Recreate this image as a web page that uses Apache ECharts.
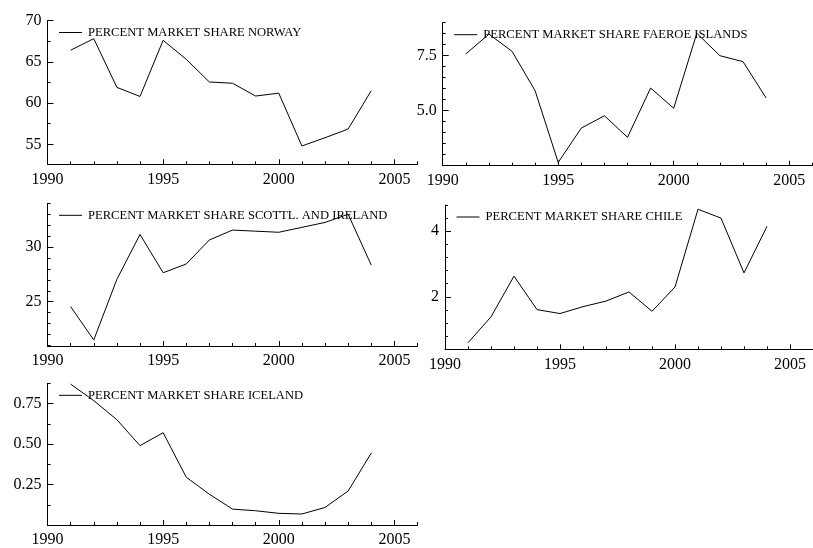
<!DOCTYPE html>
<html>
<head>
<meta charset="utf-8">
<script src="https://cdn.jsdelivr.net/npm/echarts@6/dist/echarts.min.js"></script>
<style>
  html, body { margin: 0; padding: 0; background: #fff; }
  #chart { width: 813px; height: 548px; }
</style>
</head>
<body>
<div id="chart"></div>
<script>
// Annual market shares (percent), 1991-2004
const years = [1991, 1992, 1993, 1994, 1995, 1996, 1997, 1998, 1999, 2000, 2001, 2002, 2003, 2004];

const norway   = [66.4, 67.8, 61.9, 60.8, 67.6, 65.3, 62.55, 62.4, 60.85, 61.2, 54.8, 55.8, 56.85, 61.5];
const faeroe   = [7.58, 8.48, 7.7, 5.91, 2.65, 4.21, 4.77, 3.79, 6.03, 5.11, 8.52, 7.5, 7.23, 5.58];
const scotland = [24.55, 21.5, 27.05, 31.15, 27.65, 28.45, 30.65, 31.55, 31.45, 31.35, 31.8, 32.25, 33.0, 28.35];
const chile    = [0.6, 1.39, 2.63, 1.61, 1.49, 1.7, 1.87, 2.15, 1.56, 2.3, 4.67, 4.4, 2.73, 4.15];
const iceland  = [0.87, 0.768, 0.65, 0.49, 0.57, 0.295, 0.19, 0.098, 0.088, 0.072, 0.068, 0.108, 0.21, 0.444];

// Axis tick values
const yearMajor = [1990, 1995, 2000, 2005];
const yearMinor = [1991, 1992, 1993, 1994, 1996, 1997, 1998, 1999, 2001, 2002, 2003, 2004, 2006];

const panels = [
  { name: 'PERCENT MARKET SHARE NORWAY', data: norway,
    box: [47.5, 20.5, 370, 143.8], ymin: 52.58, ymax: 70,
    major: [55, 60, 65, 70], minor: [57.5, 62.5, 67.5], dec: 0 },
  { name: 'PERCENT MARKET SHARE FAEROE ISLANDS', data: faeroe,
    box: [442.7, 22.7, 369.6, 143], ymin: 2.5, ymax: 9,
    major: [5, 7.5], minor: [3, 3.5, 4, 4.5, 5.5, 6, 6.5, 7, 8, 8.5, 9], dec: 1 },
  { name: 'PERCENT MARKET SHARE SCOTTL. AND IRELAND', data: scotland,
    box: [47.5, 203.3, 370, 142.7], ymin: 20.95, ymax: 34,
    major: [25, 30], minor: [21, 22, 23, 24, 26, 27, 28, 29, 31, 32, 33, 34], dec: 0 },
  { name: 'PERCENT MARKET SHARE CHILE', data: chile,
    box: [445, 205, 368, 144.3], ymin: 0.4, ymax: 4.8,
    major: [2, 4], minor: [0.4, 0.8, 1.2, 1.6, 2.4, 2.8, 3.2, 3.6, 4.4, 4.8], dec: 0 },
  { name: 'PERCENT MARKET SHARE ICELAND', data: iceland,
    box: [47.5, 383.3, 370, 143.4], ymin: 0, ymax: 0.875,
    major: [0.25, 0.5, 0.75], minor: [0.125, 0.375, 0.625, 0.875], dec: 2 }
];

const FONT = 'Liberation Serif';
const INK = '#000';

const grid = [], xAxis = [], yAxis = [], series = [], legend = [];

panels.forEach((p, i) => {
  const [left, top, width, height] = p.box;
  grid.push({ left, top, width, height });

  // main x axis: line, labels and long ticks
  xAxis.push({
    type: 'value', gridIndex: i, position: 'bottom', min: 1990, max: 2006,
    splitLine: { show: false },
    axisLine: { show: true, lineStyle: { color: INK, width: 1 } },
    axisTick: { show: true, inside: true, length: 5, customValues: yearMajor, lineStyle: { color: INK } },
    axisLabel: { customValues: yearMajor, color: INK, fontFamily: FONT, fontSize: 16, margin: 7,
                 formatter: v => String(v) }
  });
  // companion x axis: short yearly ticks only
  xAxis.push({
    type: 'value', gridIndex: i, position: 'bottom', min: 1990, max: 2006,
    splitLine: { show: false },
    axisLine: { show: false },
    axisTick: { show: true, inside: true, length: 3, customValues: yearMinor, lineStyle: { color: INK } },
    axisLabel: { show: false }
  });

  yAxis.push({
    type: 'value', gridIndex: i, position: 'left', min: p.ymin, max: p.ymax,
    splitLine: { show: false },
    axisLine: { show: true, lineStyle: { color: INK, width: 1 } },
    axisTick: { show: true, inside: true, length: 6, customValues: p.major, lineStyle: { color: INK } },
    axisLabel: { customValues: p.major, color: INK, fontFamily: FONT, fontSize: 16, margin: 6,
                 formatter: v => v.toFixed(p.dec) }
  });
  yAxis.push({
    type: 'value', gridIndex: i, position: 'left', min: p.ymin, max: p.ymax,
    splitLine: { show: false },
    axisLine: { show: false },
    axisTick: { show: true, inside: true, length: 3, customValues: p.minor, lineStyle: { color: INK } },
    axisLabel: { show: false }
  });

  series.push({
    name: p.name, type: 'line',
    xAxisIndex: 2 * i, yAxisIndex: 2 * i,
    data: years.map((y, k) => [y, p.data[k]]),
    symbol: 'none', showSymbol: false, animation: false,
    lineStyle: { color: INK, width: 1 }, itemStyle: { color: INK }
  });

  legend.push({
    data: [{ name: p.name, icon: 'rect' }], left: left + 11.5, top: top + 5.5, padding: 0,
    itemWidth: 23, itemHeight: 1, selectedMode: false,
    itemStyle: { color: INK },
    textStyle: { color: INK, fontFamily: FONT, fontSize: 12.6, padding: [0, 0, 0, 1] }
  });
});

const chart = echarts.init(document.getElementById('chart'), null, { renderer: 'canvas' });
chart.setOption({
  backgroundColor: '#fff',
  animation: false,
  grid, xAxis, yAxis, series, legend
});
</script>
</body>
</html>
